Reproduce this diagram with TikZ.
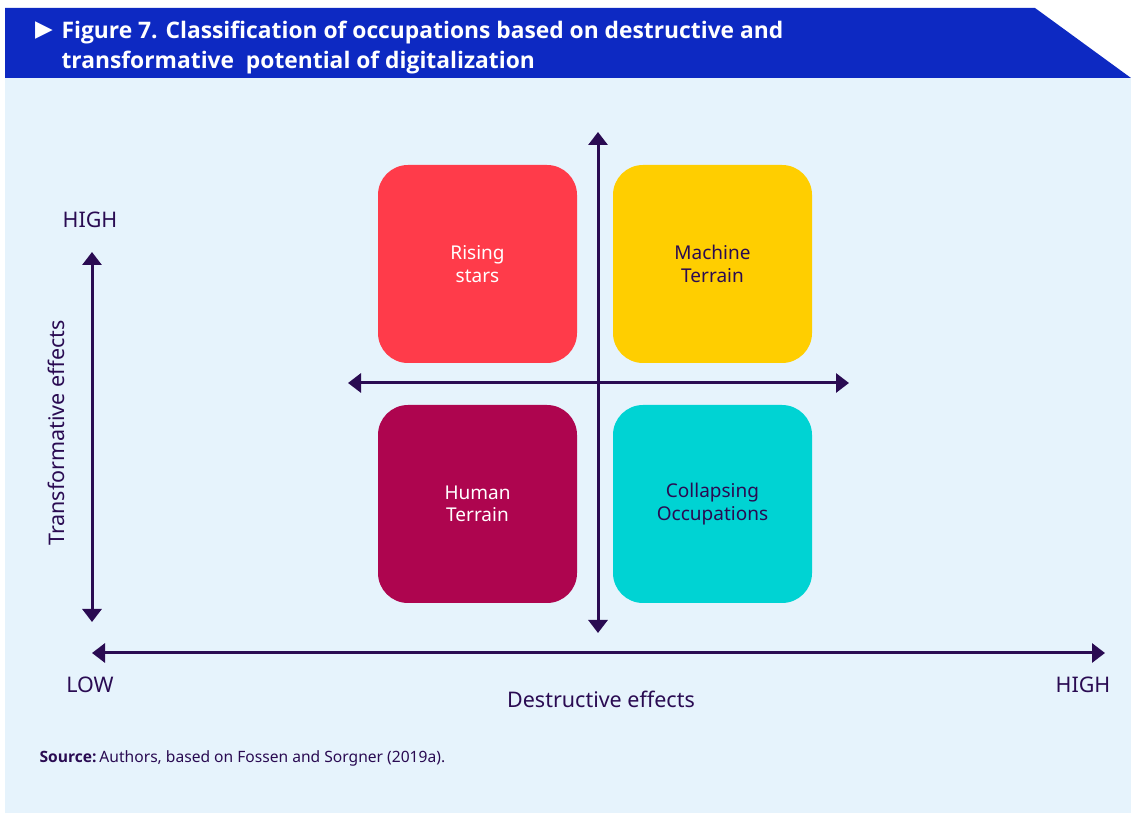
\documentclass[tikz,border=0pt]{standalone}
\usepackage{fontspec}
\setmainfont{Noto Sans}
\newfontfamily\headfont{Open Sans}
\newfontfamily\symfont{DejaVu Sans}
\usetikzlibrary{arrows.meta,positioning}
\definecolor{hdblue}{HTML}{0D29C2}
\definecolor{panel}{HTML}{E6F3FC}
\definecolor{ink}{HTML}{2A0B52}
\definecolor{rising}{HTML}{FF3B4A}
\definecolor{machine}{HTML}{FFCE00}
\definecolor{human}{HTML}{AE054F}
\definecolor{collapse}{HTML}{00D3D3}
\begin{document}
\begin{tikzpicture}[x=1pt,y=1pt,
		quad/.style={rounded corners=30pt,minimum width=199pt,minimum height=198pt,align=center,font=\fontsize{19}{22.5}\selectfont},
		axis/.style={ink,line width=3pt,{Triangle[width=19pt,length=13pt]}-{Triangle[width=19pt,length=13pt]}},
		lab/.style={text=ink,font=\fontsize{21.5}{25}\selectfont}]
	\useasboundingbox (0,0) rectangle (1131,813);
	\fill[panel] (5,0) rectangle (1131,735);
	\fill[hdblue] (5,735) -- (5,805) -- (1035,805) -- (1131,735) -- cycle;
	\node[text=white,font=\symfont\fontsize{23}{26}\selectfont] (tri) at (44,782) {▶};
	\node[text=white,anchor=west,align=left,font=\headfont\bfseries\fontsize{22.8}{30}\selectfont] (title) at (58,765)
		{Figure 7. Classification of occupations based on destructive and\\transformative\ \ potential of digitalization};
	
	\coordinate (cen) at (598,430);
	\node[quad,fill=rising,text=white,xshift=-120.5pt,yshift=119pt] (rising) at (cen) {Rising\\stars};
	\node[quad,fill=machine,text=ink,xshift=114.5pt,yshift=119pt] (machine) at (cen) {Machine\\Terrain};
	\node[quad,fill=human,text=white,xshift=-120.5pt,yshift=-121pt] (human) at (cen) {Human\\Terrain};
	\node[quad,fill=collapse,text=ink,xshift=114.5pt,yshift=-121pt] (collapse) at (cen) {Collapsing\\Occupations};
	
	\coordinate[yshift=251pt] (vtop) at (cen);
	\coordinate[yshift=-250pt] (vbot) at (cen);
	\coordinate[xshift=-250pt] (hleft) at (cen);
	\coordinate[xshift=251pt] (hright) at (cen);
	\draw[axis] (vbot) -- (vtop);
	\draw[axis] (hleft) -- (hright);
	
	\coordinate (ltop) at (92,561);
	\coordinate (lbot) at (92,191);
	\coordinate (bleft) at (92,160);
	\coordinate (bright) at (1105,160);
	\draw[axis] (lbot) -- (ltop);
	\draw[axis] (bleft) -- (bright);
	
	\node[lab] (yhigh) at (90,593) {HIGH};
	\node[lab,rotate=90] (ytitle) at (56,380) {Transformative effects};
	\node[lab] (xlow) at (90,128) {LOW};
	\node[lab] (xhigh) at (1083,128) {HIGH};
	\node[lab] (xtitle) at (601,114) {Destructive effects};
	\node[text=ink,anchor=west,font=\fontsize{15.6}{18}\selectfont] (source) at (36,55)
		{{\headfont\bfseries Source:}\hspace{3pt}Authors, based on Fossen and Sorgner (2019a).};
\end{tikzpicture}
\end{document}
